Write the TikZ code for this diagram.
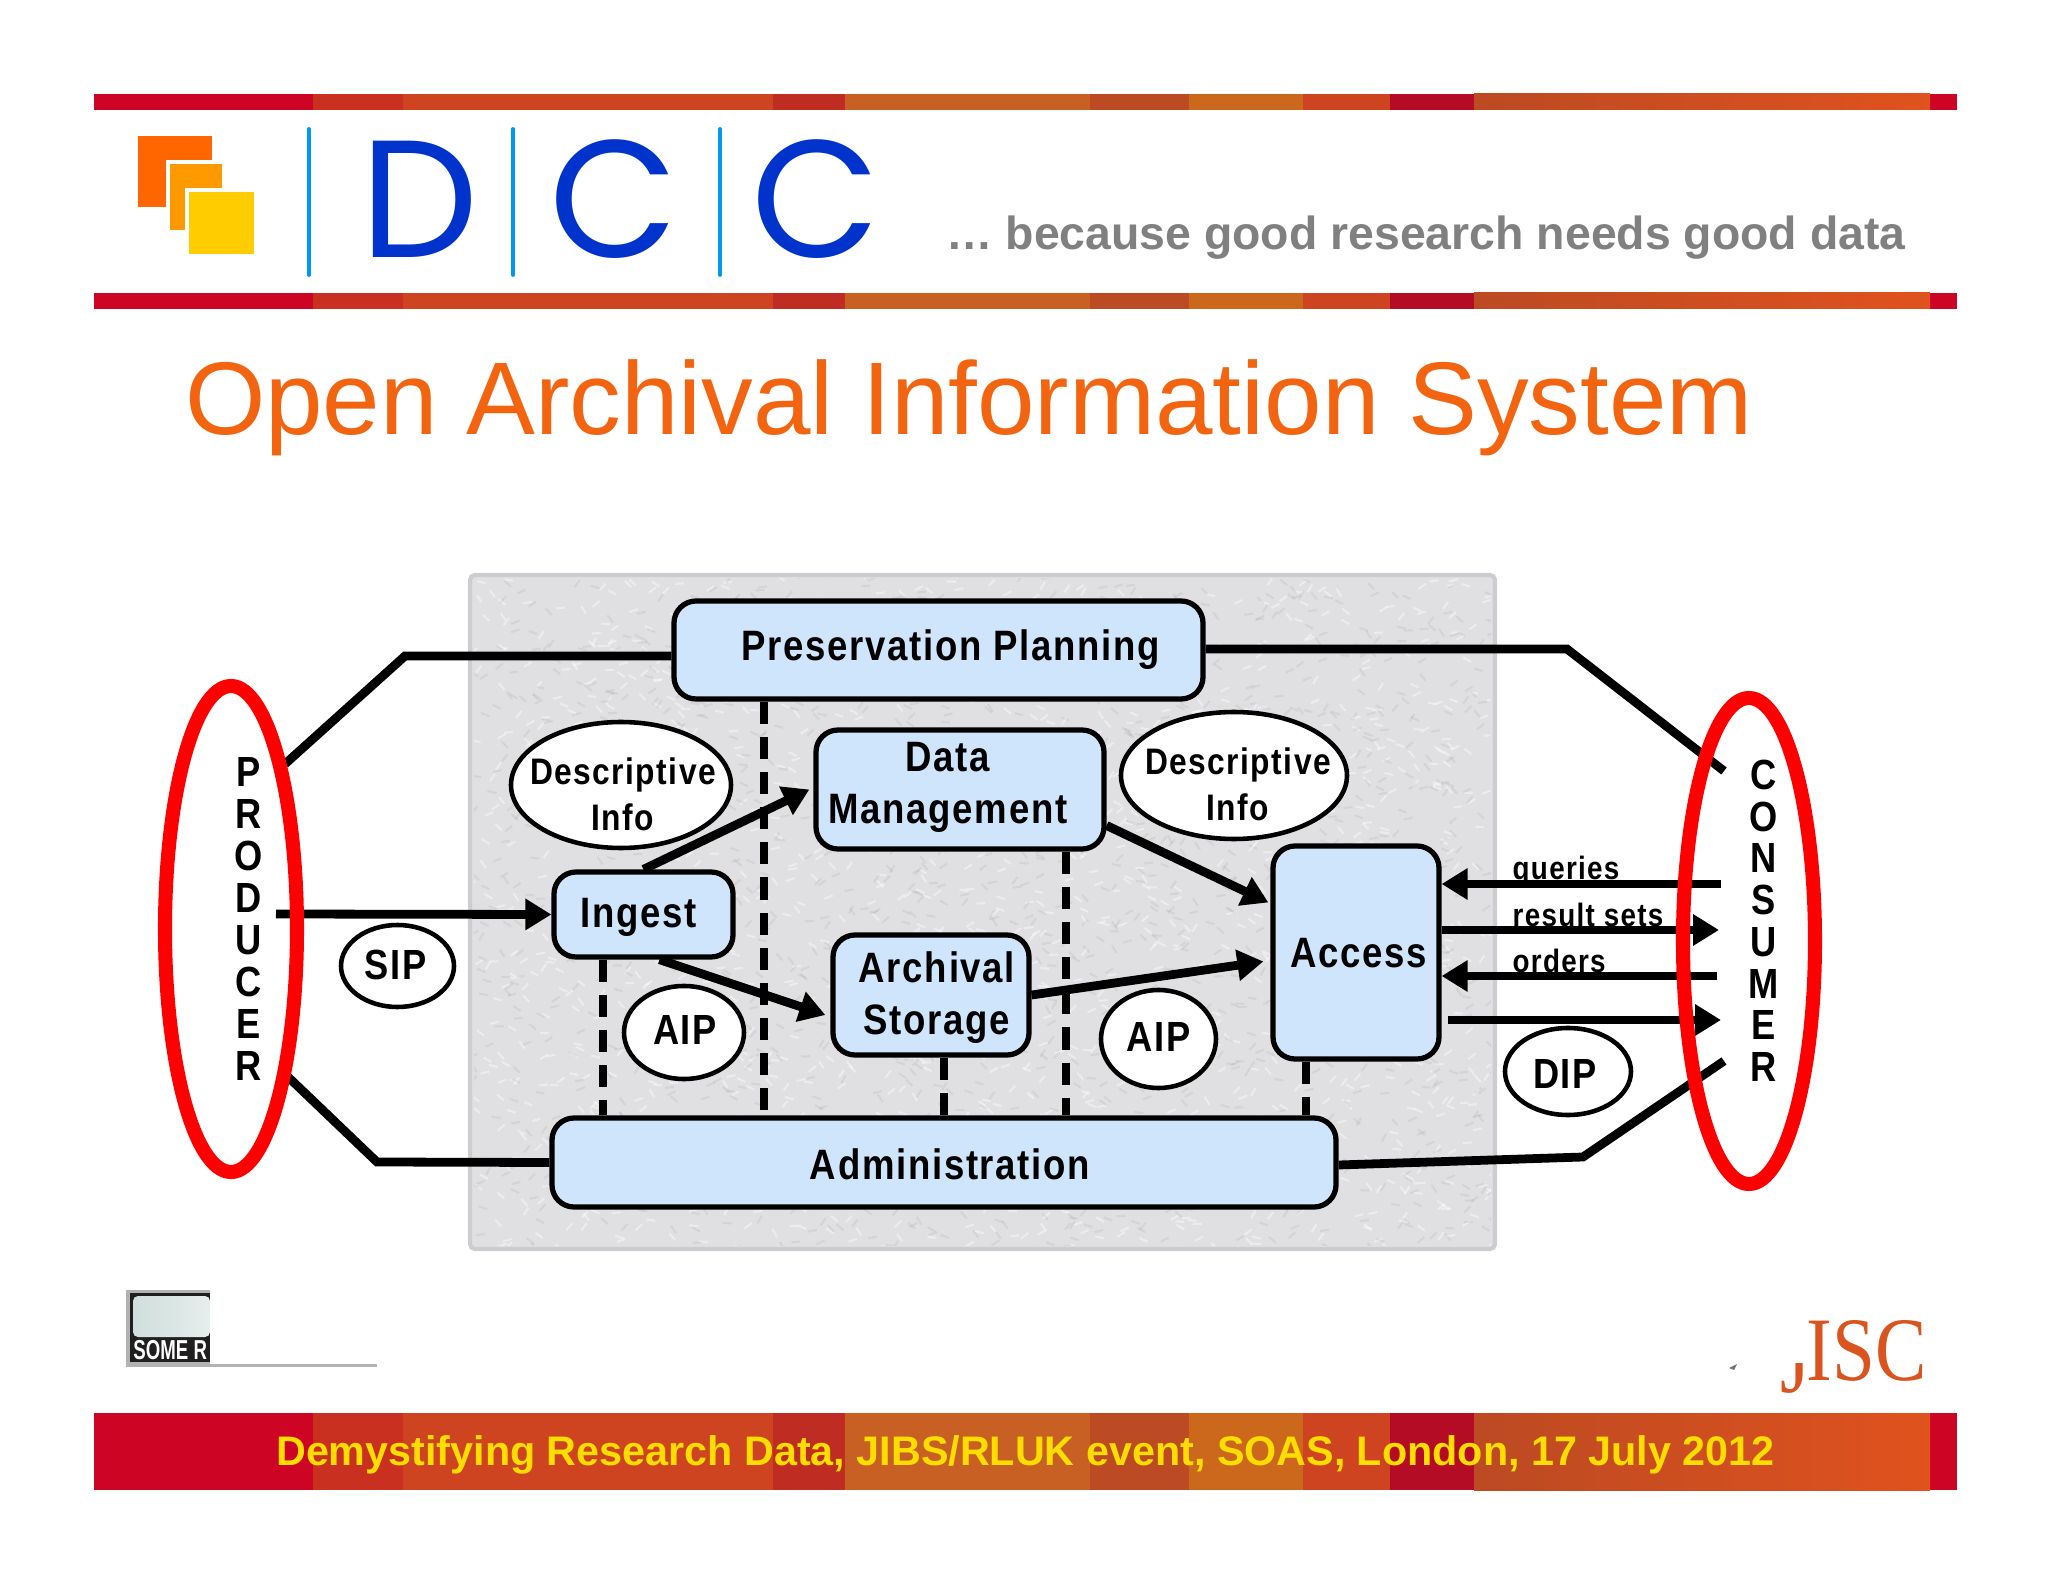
\documentclass[tikz,border=0pt]{standalone}
\usepackage{fontspec}
\setmainfont{Liberation Sans}
\newfontfamily\logofont{Poppins}
\newfontfamily\serifmark{Liberation Serif}
\newfontfamily\panelfont[FakeStretch=0.86,LetterSpace=4]{Liberation Sans}
\usetikzlibrary{arrows.meta,shapes}
\definecolor{boxblue}{HTML}{CFE5FC}
\definecolor{panelgrey}{HTML}{E0E0E3}
\definecolor{paneledge}{HTML}{CDCDD1}
\definecolor{titleorange}{HTML}{F2640F}
\definecolor{barred}{HTML}{CE0425}
\definecolor{barbrick}{HTML}{C93020}
\definecolor{barrust}{HTML}{CF4420}
\definecolor{barochre}{HTML}{C86024}
\definecolor{bardark}{HTML}{BE2C22}
\definecolor{barbrown}{HTML}{BC4A22}
\definecolor{barbright}{HTML}{CC681C}
\definecolor{barwine}{HTML}{B40C24}
\definecolor{barend}{HTML}{E0521E}
\definecolor{logoblue}{HTML}{0033CC}
\definecolor{logoline}{HTML}{0099EE}
\definecolor{logoa}{HTML}{FF6600}
\definecolor{logob}{HTML}{FF9900}
\definecolor{logoc}{HTML}{FFCC00}
\definecolor{fundercol}{HTML}{D9541E}
\definecolor{footeryellow}{HTML}{FFDD00}
\definecolor{badgea}{HTML}{CFDEDC}
\definecolor{badgeb}{HTML}{E6EEEC}
\tikzset{
  boxtext/.style={align=center,inner sep=0pt,font=\fontsize{12.1}{15}\panelfont\bfseries},
  procbox/.style={draw,fill=boxblue,line width=1.5pt,rounded corners=2.2mm,inner sep=0pt},
  infobub/.style={draw,fill=white,ellipse,line width=1.3pt,inner sep=0pt},
  bubtext/.style={inner sep=0pt,font=\fontsize{12}{14}\panelfont\bfseries},
  desctext/.style={align=center,inner sep=0pt,font=\fontsize{10.5}{13}\panelfont\bfseries},
  flow/.style={line width=2.5pt,-{Triangle[length=2.6mm,width=3mm]}},
  link/.style={line width=2.5pt,line join=miter},
  admin/.style={line width=2.3pt,dash pattern=on 6.3pt off 3.7pt},
  redring/.style={draw=red,line width=4pt,ellipse,minimum width=1.32cm,minimum height=4.86cm,inner sep=0pt},
  flowlabel/.style={anchor=west,inner sep=0pt,font=\fontsize{9.2}{10}\panelfont\bfseries},
  ringletter/.style={inner sep=0pt,font=\fontsize{12}{12}\panelfont\bfseries},
  logoletter/.style={text=logoblue,font=\fontsize{47.5}{48}\logofont},
}
\begin{document}
\begin{tikzpicture}[>=Stealth]
  \useasboundingbox (0,0) rectangle (20.48,-15.82);
  % header and footer bars
  \foreach \ya/\yb in {-0.94/-1.10,-2.93/-3.09,-14.13/-14.90} {
    \foreach \xa/\xb/\col in {0.94/3.13/barred,3.13/4.03/barbrick,4.03/7.73/barrust,7.73/8.45/bardark,8.45/10.90/barochre,10.90/11.89/barbrown,11.89/13.03/barbright,13.03/13.90/barrust,13.90/14.74/barwine,19.30/19.57/barred} {
      \fill [\col] (\xa,\ya) rectangle (\xb,\yb);
    }
    \shade [left color=barbrown,right color=barend] (14.74,\ya) rectangle (19.30,\yb);
  }
  % logo
  \fill [logoa] (1.38,-1.36) rectangle (2.12,-2.07);
  \fill [white] (1.66,-1.60) rectangle (2.25,-2.34);
  \fill [logob] (1.70,-1.64) rectangle (2.22,-2.30);
  \fill [white] (1.85,-1.88) rectangle (2.56,-2.56);
  \fill [logoc] (1.89,-1.92) rectangle (2.54,-2.54);
  \foreach \x in {3.09,5.13,7.20} {
    \draw [line width=1.1pt,logoline,line cap=round] (\x,-1.29) -- (\x,-2.75);
  }
  \node [logoletter] (logod) at (4.20,-1.99) {D};
  \node [logoletter] (logoc) at (6.14,-1.99) {C};
  \node [logoletter] (logocc) at (8.16,-1.99) {C};
  \node [anchor=base,text=black!50,font=\fontsize{13.2}{15}\bfseries] (slogan) at (14.26,-2.50) {… because good research needs good data};
  \node [anchor=base,text=titleorange,font=\fontsize{29.4}{32}\selectfont] (heading) at (9.69,-4.35) {Open Archival Information System};
  % grey panel
  \fill [panelgrey,draw=paneledge,line width=1.2pt,rounded corners=0.5mm] (4.70,-5.75) rectangle (14.95,-12.49);
  \pgfmathsetseed{17}
  \begin{scope}
    \clip (4.74,-5.79) rectangle (14.91,-12.45);
    \foreach \tone/\alpha in {white/0.4,black/0.05} {
      \foreach \i in {1,...,1500} {
        \pgfmathsetmacro{\px}{4.7+10.25*rnd}
        \pgfmathsetmacro{\py}{-5.75-6.74*rnd}
        \pgfmathsetmacro{\pa}{-60+120*rnd}
        \draw [\tone,opacity=\alpha,line width=0.6pt] (\px,\py) -- ++(\pa:0.09);
      }
    }
  \end{scope}
  % boxes
  \node [procbox,minimum width=5.29cm,minimum height=0.98cm,label={[boxtext,shift={(0.12,0)}]center:Preservation Planning}] (plan) at (9.385,-6.50) {};
  \node [procbox,minimum width=2.88cm,minimum height=1.19cm,label={[boxtext,shift={(-0.12,0.02)}]center:Data\\Management}] (datam) at (9.60,-7.895) {};
  \node [procbox,minimum width=1.79cm,minimum height=0.85cm,label={[boxtext,shift={(-0.045,-0.025)}]center:Ingest}] (ingest) at (6.435,-9.145) {};
  \node [procbox,minimum width=1.96cm,minimum height=1.20cm,label={[boxtext,shift={(0.06,-0.025)}]center:Archival\\Storage}] (store) at (9.31,-9.95) {};
  \node [procbox,minimum width=1.66cm,minimum height=2.13cm,label={[boxtext,shift={(0.03,-0.01)}]center:Access}] (access) at (13.56,-9.525) {};
  \node [procbox,minimum width=7.84cm,minimum height=0.89cm,label={[boxtext,shift={(0.06,-0.015)}]center:Administration}] (admin) at (9.44,-11.625) {};
  % bubbles
  \node [infobub,minimum width=2.20cm,minimum height=1.26cm,label={[desctext,shift={(0.02,-0.09)}]center:Descriptive\\Info}] (descl) at (6.21,-7.85) {};
  \node [infobub,minimum width=2.26cm,minimum height=1.27cm,label={[desctext,shift={(0.04,-0.09)}]center:Descriptive\\Info}] (descr) at (12.34,-7.755) {};
  \node [infobub,minimum width=1.13cm,minimum height=0.82cm,label={[bubtext,shift={(-0.02,0.01)}]center:SIP}] (sip) at (3.975,-9.66) {};
  \node [infobub,minimum width=1.20cm,minimum height=0.93cm,label={[bubtext,shift={(0.01,0.025)}]center:AIP}] (aipl) at (6.84,-10.325) {};
  \node [infobub,minimum width=1.15cm,minimum height=0.98cm,label={[bubtext,shift={(0,0.025)}]center:AIP}] (aipr) at (11.585,-10.39) {};
  \node [infobub,minimum width=1.26cm,minimum height=0.87cm,label={[bubtext,shift={(-0.03,-0.025)}]center:DIP}] (dip) at (15.68,-10.715) {};
  % dashed links to administration
  \draw [admin] (plan.south -| 7.64,0) -- (admin.north -| 7.64,0);
  \draw [admin] (ingest.south -| 6.03,0) -- (admin.north -| 6.03,0);
  \draw [admin] (datam.south -| 10.66,0) -- (admin.north -| 10.66,0);
  \draw [admin] (store.south -| 9.44,0) -- (admin.north -| 9.44,0);
  \draw [admin] (access.south -| 13.06,0) -- (admin.north -| 13.06,0);
  % free ends at the two rings
  \coordinate (prodin) at (2.76,-9.14);
  \coordinate (prodtop) at (2.85,-7.64);
  \coordinate (prodbot) at (2.85,-10.74);
  \coordinate (constop) at (17.24,-7.71);
  \coordinate (consbot) at (17.24,-10.61);
  \coordinate (consa) at (17.21,-8.84);
  \coordinate (consb) at (17.19,-9.30);
  \coordinate (consc) at (17.17,-9.76);
  \coordinate (consd) at (17.21,-10.20);
  \draw [link] (plan.west |- 0,-6.56) -- (4.05,-6.56) -- (prodtop);
  \draw [link] (plan.east |- 0,-6.49) -- (15.67,-6.49) -- (constop);
  \draw [link] (admin.west) -- (3.77,-11.62) -- (prodbot);
  \draw [link] (admin.east |- 0,-11.65) -- (15.83,-11.57) -- (consbot);
  \draw [flow] (prodin) -- (ingest.west);
  \draw [flow] (ingest.north) -- ([xshift=-0.04cm]datam.west);
  \draw [flow] ([xshift=0.16cm]ingest.south) -- ([shift={(-0.05cm,-0.20cm)}]store.west);
  \draw [flow] ([yshift=-0.36cm]datam.east) -- ([shift={(-0.02cm,0.50cm)}]access.west);
  \draw [flow] (store.east) -- ([shift={(-0.07cm,-0.09cm)}]access.west);
  \draw [flow] (consa) -- (access.east |- consa);
  \draw [flow] (access.east |- consb) -- (consb);
  \draw [flow] (consc) -- (access.east |- consc);
  \draw [flow] ([xshift=0.06cm]access.east |- consd) -- (consd);
  \node [flowlabel] (qlab) at (15.12,-8.71) {queries};
  \node [flowlabel] (rlab) at (15.12,-9.15) {result sets};
  \node [flowlabel] (olab) at (15.12,-9.61) {orders};
  % rings and their letters
  \foreach \ch [count=\k from 0] in {P,R,O,D,U,C,E,R} {
    \node [ringletter] (prod\k) at (2.49,-7.72-0.42*\k) {\ch};
  }
  \foreach \ch [count=\k from 0] in {C,O,N,S,U,M,E,R} {
    \node [ringletter] (cons\k) at (17.64,-7.75-0.417*\k) {\ch};
  }
  \node [redring] (producer) at (2.31,-9.29) {};
  \node [redring] (consumer) at (17.49,-9.41) {};
  % badge
  \fill [black!30] (1.26,-12.90) rectangle (2.10,-13.67);
  \fill [black!30] (2.10,-13.64) rectangle (3.77,-13.67);
  \fill [black!88] (1.30,-12.93) rectangle (2.10,-13.62);
  \shade [rounded corners=0.5mm,left color=badgea,right color=badgeb] (1.33,-12.96) rectangle (2.10,-13.37);
  \begin{scope}
    \clip (1.30,-13.3) rectangle (2.10,-13.62);
    \node [anchor=west,text=white,inner sep=0pt,font=\fontsize{7.8}{8}\bfseries,xscale=.68] (badge) at (1.33,-13.50) {SOME R};
  \end{scope}
  % funder mark
  \begin{scope}
    \clip (17.80,-13.63) rectangle (18.06,-13.95);
    \node [anchor=base west,inner sep=0pt,text=fundercol,font=\serifmark\fontsize{25.8}{26}\selectfont,xscale=.85] (funderj) at (17.80,-13.92) {J};
  \end{scope}
  \node [anchor=base west,inner sep=0pt,text=fundercol,font=\serifmark\fontsize{25.8}{26}\selectfont,xscale=.85] (funder) at (18.06,-13.80) {ISC};
  \fill [black!55] (17.29,-13.68) -- (17.37,-13.64) -- (17.34,-13.70) -- cycle;
  \node [anchor=base,text=footeryellow,font=\fontsize{11.75}{13}\bfseries] (footer) at (10.255,-14.65) {Demystifying Research Data, JIBS/RLUK event, SOAS, London, 17 July 2012};
\end{tikzpicture}
\end{document}
